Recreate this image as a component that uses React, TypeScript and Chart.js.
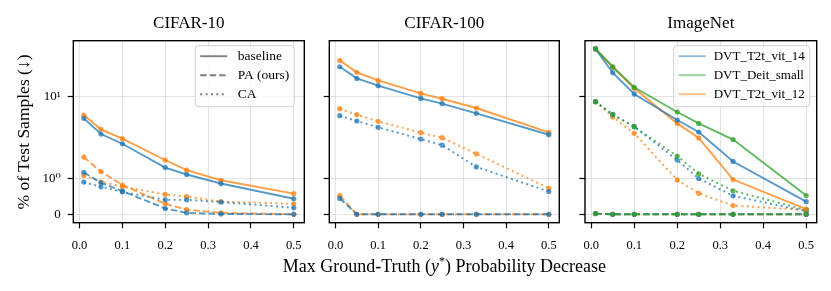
import React, { useEffect, useRef } from 'react';
import { Chart, registerables, LinearScale } from 'chart.js';

Chart.register(...registerables);

// ---------------- data ----------------
const X_VALUES = [0.01, 0.05, 0.1, 0.2, 0.25, 0.33, 0.5];
const X_TICKS = [0, 0.1, 0.2, 0.3, 0.4, 0.5];
const Y_TICKS = [0, 1, 10];
const Y_TICK_LABELS = ['0', '10⁰', '10¹'];
const PANEL_TITLES = ['CIFAR-10', 'CIFAR-100', 'ImageNet'];
const MODELS = ['DVT_T2t_vit_14', 'DVT_Deit_small', 'DVT_T2t_vit_12'];
const METHODS = ['baseline', 'PA (ours)', 'CA'];
const X_LABEL = 'Max Ground-Truth';
const Y_LABEL = '% of Test Samples (↓)';

// CIFAR-10
const C10_BLUE_BASELINE = [4.6, 2.64, 1.95, 1.29, 1.1, 0.85, 0.43];
const C10_ORANGE_BASELINE = [5.18, 3.12, 2.24, 1.5, 1.22, 0.94, 0.57];
const C10_BLUE_PA = [1.16, 0.87, 0.64, 0.16, 0.04, 0.01, 0.0];
const C10_ORANGE_PA = [1.58, 1.18, 0.81, 0.29, 0.13, 0.04, 0.0];
const C10_BLUE_CA = [0.89, 0.76, 0.62, 0.4, 0.4, 0.34, 0.18];
const C10_ORANGE_CA = [1.07, 0.9, 0.76, 0.55, 0.49, 0.35, 0.29];

// CIFAR-100
const C100_BLUE_BASELINE = [28.5, 18.9, 14.6, 9.32, 7.73, 5.49, 2.58];
const C100_ORANGE_BASELINE = [35.7, 23.4, 17.6, 11.1, 9.21, 6.63, 2.8];
const C100_BLUE_PA = [0.44, 0, 0, 0, 0, 0, 0];
const C100_ORANGE_PA = [0.52, 0, 0, 0, 0, 0, 0];
const C100_BLUE_CA = [5.05, 4.19, 3.35, 2.21, 1.91, 1.31, 0.63];
const C100_ORANGE_CA = [6.47, 5.24, 4.14, 2.77, 2.32, 1.67, 0.72];

// ImageNet
const IN_BLUE_BASELINE = [53.4, 23.1, 10.9, 4.34, 2.84, 1.46, 0.35];
const IN_GREEN_BASELINE = [54.6, 28.5, 13.8, 5.76, 3.85, 2.17, 0.52];
const IN_ORANGE_BASELINE = [52.7, 27.9, 13.3, 3.85, 2.3, 0.96, 0.14];
const IN_BLUE_PA = [0.02, 0, 0, 0, 0, 0, 0];
const IN_GREEN_PA = [0.02, 0, 0, 0, 0, 0, 0];
const IN_ORANGE_PA = [0.02, 0, 0, 0, 0, 0, 0];
const IN_BLUE_CA = [8.29, 5.31, 3.43, 1.5, 0.99, 0.51, 0.09];
const IN_GREEN_CA = [8.29, 5.24, 3.43, 1.61, 1.12, 0.65, 0.12];
const IN_ORANGE_CA = [8.29, 4.83, 2.71, 0.95, 0.58, 0.24, 0.12];

// ---------------- styles ----------------
const FONT = '"Liberation Serif", "DejaVu Serif", serif';
const BLUE = [31, 119, 180];
const ORANGE = [255, 127, 14];
const GREEN = [44, 160, 44];
const GRAY = [128, 128, 128];
const LINE_ALPHA = 0.75;
const DASHED = [6.5, 3];
const DOTTED = [2, 3.4];
const rgba = (c: number[], a: number) => `rgba(${c[0]},${c[1]},${c[2]},${a})`;

// ---------------- symlog scale (matplotlib default linthresh=2, linscale=1) ----------------
const LINTHRESH = 2;
const LINSCALE_ADJ = 1 / (1 - 1 / 10);
function symT(v: number) {
  const a = Math.abs(v);
  if (a <= LINTHRESH) return v * LINSCALE_ADJ;
  return Math.sign(v) * LINTHRESH * (LINSCALE_ADJ + Math.log10(a / LINTHRESH));
}
function symInv(t: number) {
  const a = Math.abs(t);
  const lim = LINTHRESH * LINSCALE_ADJ;
  if (a <= lim) return t / LINSCALE_ADJ;
  return Math.sign(t) * LINTHRESH * Math.pow(10, a / LINTHRESH - LINSCALE_ADJ);
}

class SymlogScale extends (LinearScale as any) {
  static id = 'symlog';
  static defaults = { ...(LinearScale as any).defaults };
  getPixelForValue(value: number) {
    if (value === null || value === undefined || isNaN(value)) return NaN;
    const a = symT(this.min);
    const b = symT(this.max);
    return this.getPixelForDecimal((symT(value) - a) / (b - a));
  }
  getValueForPixel(pixel: number) {
    const a = symT(this.min);
    const b = symT(this.max);
    return symInv(a + this.getDecimalForPixel(pixel) * (b - a));
  }
}
Chart.register(SymlogScale as any);

const Y_MIN = -0.232;
const Y_MAX = 71.6;
const X_MIN = -0.0145;
const X_MAX = 0.5245;

// ---------------- plugins ----------------
const framePlugin = {
  id: 'frameBox',
  afterDatasetsDraw(chart: any) {
    const { ctx, chartArea: ca } = chart;
    ctx.save();
    ctx.strokeStyle = '#000';
    ctx.lineWidth = 1.4;
    ctx.strokeRect(ca.left, ca.top, ca.right - ca.left, ca.bottom - ca.top);
    ctx.restore();
  },
};

type LegendItem = { label: string; color: string; dash: number[] };
type LegendSpec = { items: LegendItem[]; fontSize: number; marginR: number; gap: number };
function makeLegendPlugin(spec: LegendSpec) {
  return {
    id: 'boxLegend',
    afterDraw(chart: any) {
      const { ctx, chartArea: ca } = chart;
      const items = spec.items;
      const padX = 5;
      const lineLen = 27;
      const rowH = 19;
      const padTop = 1;
      const padBottom = 3;
      ctx.save();
      ctx.font = `${spec.fontSize}px ${FONT}`;
      const textW = Math.max(...items.map((it) => ctx.measureText(it.label).width));
      const w = padX + lineLen + spec.gap + textW + padX;
      const h = padTop + rowH * items.length + padBottom;
      const x0 = ca.right - spec.marginR - w;
      const y0 = ca.top + 5;
      ctx.beginPath();
      (ctx as any).roundRect(x0, y0, w, h, 3);
      ctx.fillStyle = 'rgba(255,255,255,0.8)';
      ctx.fill();
      ctx.strokeStyle = 'rgba(204,204,204,0.9)';
      ctx.lineWidth = 1;
      ctx.stroke();
      items.forEach((it, i) => {
        const cy = y0 + padTop + rowH * (i + 0.5);
        ctx.beginPath();
        ctx.setLineDash(it.dash);
        ctx.strokeStyle = it.color;
        ctx.lineWidth = 1.9;
        ctx.moveTo(x0 + padX, cy);
        ctx.lineTo(x0 + padX + lineLen, cy);
        ctx.stroke();
        ctx.setLineDash([]);
        ctx.fillStyle = '#000';
        ctx.textBaseline = 'middle';
        ctx.textAlign = 'left';
        ctx.fillText(it.label, x0 + padX + lineLen + spec.gap, cy + 0.5);
      });
      ctx.restore();
    },
  };
}

// ---------------- dataset helper ----------------
function ds(label: string, ys: number[], color: number[], dash: number[]) {
  const c = rgba(color, LINE_ALPHA);
  return {
    label,
    data: X_VALUES.map((x, i) => ({ x, y: ys[i] })),
    borderColor: c,
    backgroundColor: c,
    pointBackgroundColor: c,
    pointBorderWidth: 0,
    pointRadius: 2.6,
    pointHoverRadius: 2.6,
    borderWidth: 1.9,
    borderDash: dash,
    tension: 0,
    fill: false,
  };
}

type PanelSpec = {
  left: number;
  width: number;
  yAxisWidth: number;
  padRight: number;
  showYLabels: boolean;
  datasets: any[];
  legend?: LegendSpec;
};

const PANELS: PanelSpec[] = [
  {
    left: 0,
    width: 312,
    yAxisWidth: 73.3,
    padRight: 7.7,
    showYLabels: true,
    datasets: [
      ds('blue baseline', C10_BLUE_BASELINE, BLUE, []),
      ds('blue PA', C10_BLUE_PA, BLUE, DASHED),
      ds('blue CA', C10_BLUE_CA, BLUE, DOTTED),
      ds('orange baseline', C10_ORANGE_BASELINE, ORANGE, []),
      ds('orange PA', C10_ORANGE_PA, ORANGE, DASHED),
      ds('orange CA', C10_ORANGE_CA, ORANGE, DOTTED),
    ],
    legend: {
      fontSize: 13.5,
      marginR: 10,
      gap: 10.5,
      items: [
        { label: METHODS[0], color: rgba(GRAY, 1), dash: [] },
        { label: METHODS[1], color: rgba(GRAY, 1), dash: DASHED },
        { label: METHODS[2], color: rgba(GRAY, 1), dash: DOTTED },
      ],
    },
  },
  {
    left: 312,
    width: 255,
    yAxisWidth: 17.3,
    padRight: 7.7,
    showYLabels: false,
    datasets: [
      ds('blue baseline', C100_BLUE_BASELINE, BLUE, []),
      ds('blue PA', C100_BLUE_PA, BLUE, DASHED),
      ds('blue CA', C100_BLUE_CA, BLUE, DOTTED),
      ds('orange baseline', C100_ORANGE_BASELINE, ORANGE, []),
      ds('orange PA', C100_ORANGE_PA, ORANGE, DASHED),
      ds('orange CA', C100_ORANGE_CA, ORANGE, DOTTED),
    ],
  },
  {
    left: 567,
    width: 264,
    yAxisWidth: 18,
    padRight: 14.3,
    showYLabels: false,
    datasets: [
      ds(MODELS[1] + ' PA', IN_GREEN_PA, GREEN, DASHED),
      ds(MODELS[0] + ' PA', IN_BLUE_PA, BLUE, DASHED),
      ds(MODELS[2] + ' PA', IN_ORANGE_PA, ORANGE, DASHED),
      ds(MODELS[1] + ' baseline', IN_GREEN_BASELINE, GREEN, []),
      ds(MODELS[0] + ' baseline', IN_BLUE_BASELINE, BLUE, []),
      ds(MODELS[2] + ' baseline', IN_ORANGE_BASELINE, ORANGE, []),
      ds(MODELS[1] + ' CA', IN_GREEN_CA, GREEN, DOTTED),
      ds(MODELS[0] + ' CA', IN_BLUE_CA, BLUE, DOTTED),
      ds(MODELS[2] + ' CA', IN_ORANGE_CA, ORANGE, DOTTED),
    ],
    legend: {
      fontSize: 13,
      marginR: 7,
      gap: 8,
      items: [
        { label: MODELS[0], color: rgba(BLUE, 0.5), dash: [] },
        { label: MODELS[1], color: rgba(GREEN, 0.5), dash: [] },
        { label: MODELS[2], color: rgba(ORANGE, 0.5), dash: [] },
      ],
    },
  },
];

const CHART_TOP = 40.7;
const CHART_BOTTOM = 222.7;
const X_AXIS_H = 30;
const H = 291;

function Panel({ spec }: { spec: PanelSpec }) {
  const ref = useRef<HTMLCanvasElement>(null);
  useEffect(() => {
    if (!ref.current) return;
    const plugins: any[] = [framePlugin];
    if (spec.legend) plugins.push(makeLegendPlugin(spec.legend));
    const gridCommon = {
      color: 'rgba(176,176,176,0.35)',
      lineWidth: 1,
      tickColor: '#000',
      tickLength: 5.6,
      tickWidth: 1.2,
      drawTicks: true,
    };
    const chart = new Chart(ref.current, {
      type: 'line',
      data: { datasets: spec.datasets },
      plugins,
      options: {
        animation: false,
        responsive: false,
        maintainAspectRatio: false,
        events: [],
        layout: {
          padding: {
            left: 0,
            right: spec.padRight,
            top: CHART_TOP,
            bottom: H - CHART_BOTTOM - X_AXIS_H,
          },
        },
        plugins: {
          legend: { display: false },
          tooltip: { enabled: false },
          title: { display: false },
        },
        scales: {
          x: {
            type: 'linear',
            min: X_MIN,
            max: X_MAX,
            afterBuildTicks: (s: any) => {
              s.ticks = X_TICKS.map((v) => ({ value: v }));
            },
            afterFit: (s: any) => {
              s.height = X_AXIS_H;
            },
            grid: gridCommon,
            border: { display: false },
            ticks: {
              color: '#000',
              font: { family: FONT, size: 12.5 },
              padding: 10,
              maxRotation: 0,
              autoSkip: false,
              callback: (v: any) => Number(v).toFixed(1),
            },
          },
          y: {
            type: 'symlog' as any,
            min: Y_MIN,
            max: Y_MAX,
            afterBuildTicks: (s: any) => {
              s.ticks = Y_TICKS.map((v) => ({ value: v }));
            },
            afterFit: (s: any) => {
              s.width = spec.yAxisWidth;
            },
            grid: gridCommon,
            border: { display: false },
            ticks: {
              display: spec.showYLabels,
              color: '#000',
              font: { family: FONT, size: 13 },
              padding: 7,
              autoSkip: false,
              callback: (v: any) => {
                const i = Y_TICKS.indexOf(Number(v));
                return i >= 0 ? Y_TICK_LABELS[i] : '';
              },
            },
          },
        },
      } as any,
    });
    return () => chart.destroy();
  }, [spec]);
  return (
    <canvas
      ref={ref}
      width={spec.width}
      height={H}
      style={{ position: 'absolute', left: spec.left, top: 0, width: spec.width, height: H }}
    />
  );
}

const textBase: React.CSSProperties = {
  position: 'absolute',
  fontFamily: FONT,
  color: '#000',
  whiteSpace: 'nowrap',
  textAlign: 'center',
  lineHeight: '20px',
};

export default function App() {
  const centers = PANELS.map((p) => {
    const l = p.left + p.yAxisWidth;
    const r = p.left + p.width - p.padRight;
    return (l + r) / 2;
  });
  return (
    <div
      style={{
        position: 'absolute',
        left: 0,
        top: 0,
        width: 831,
        height: H,
        background: '#fff',
        overflow: 'hidden',
      }}
    >
      {PANELS.map((p, i) => (
        <Panel key={i} spec={p} />
      ))}
      {PANEL_TITLES.map((t, i) => (
        <div key={t} style={{ ...textBase, left: centers[i] - 100, width: 200, top: 12.5, fontSize: 17 }}>
          {t}
        </div>
      ))}
      <div style={{ ...textBase, left: centers[1] - 250, width: 500, top: 255.6, fontSize: 18 }}>
        {X_LABEL} (<i>y</i>
        <sup style={{ fontSize: 12, lineHeight: 0, verticalAlign: 'super' }}>*</sup>) Probability Decrease
      </div>
      <div
        style={{
          ...textBase,
          left: 23 - 120,
          width: 240,
          top: 131.7 - 10,
          fontSize: 17.5,
          transform: 'rotate(-90deg)',
          transformOrigin: '50% 50%',
        }}
      >
        {Y_LABEL}
      </div>
    </div>
  );
}
